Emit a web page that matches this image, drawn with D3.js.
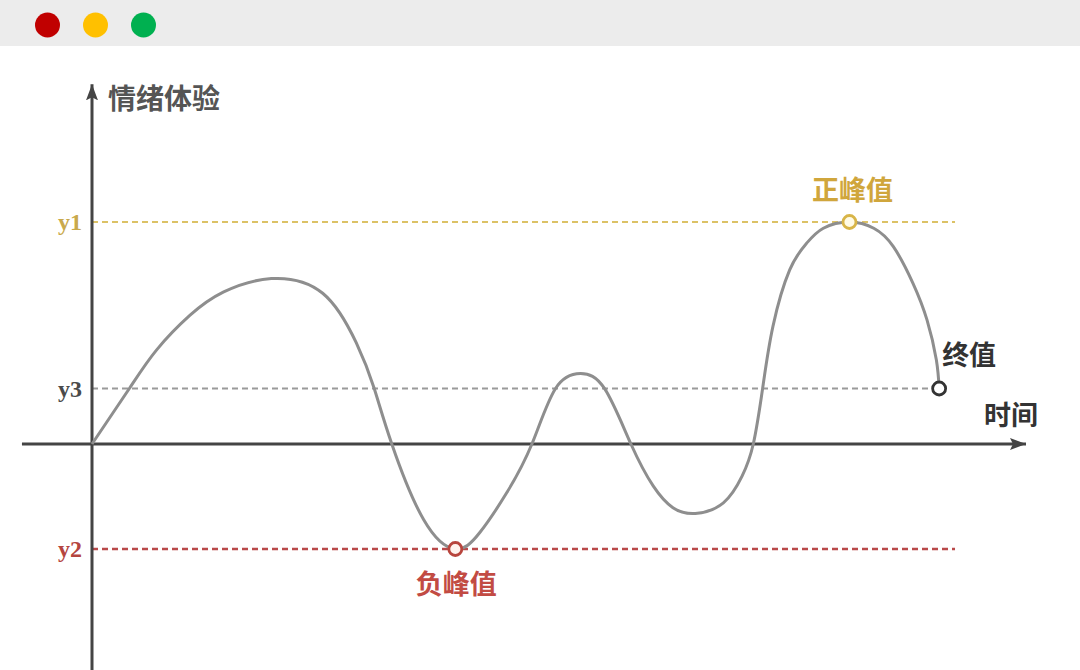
<!DOCTYPE html>
<meta charset="utf-8">
<script src="https://d3js.org/d3.v7.min.js"></script>
<style>
  body { margin: 0; background: #fff; }
  svg { display: block; }
</style>
<div id="chart"></div>
<script>
// time (0-100) and emotion value (y1 = 100)
var timeT   = [0, 4.0, 6.9, 10.5, 14.1, 19.2, 24.7, 28.3, 30.2, 32.1, 35.5, 38.9, 41.5, 44.4, 47.1, 49.6, 52.3, 54.9, 57.7, 60.1, 62.2, 64.6, 67.6, 69.6, 70.8, 71.8, 72.9, 74.7, 76.5, 78.3, 81.1, 83.7, 85.8, 87.9, 89.4, 90.4, 90.7];
var emotion = [0, 25, 42.3, 58, 68.5, 74.5, 67.9, 45.5, 25.2, 0, -34, -47.3, -40, -22, 0, 24.8, 31.7, 24.8, 0, -19, -28.7, -31.3, -26.5, -14.5, 0, 25, 52.9, 78.4, 90.4, 97.2, 100, 97.2, 88.9, 72.4, 55.9, 37.9, 25];

// reference lines
var refNames  = ["y1", "y3", "y2"];
var refValues = [100, 25, -47.3];
var refEnds   = [92.4, 90.7, 92.4];
var refColors = ["#dcc266", "#9a9a9a", "#b9494a"];
var refLabelColors = ["#c9a94c", "#4a4a4a", "#b5453f"];

// highlighted points: index into the series
var markIdx    = [30, 11, 36];
var markNames  = ["正峰值", "负峰值", "终值"];
var markStroke = ["#d8b548", "#b8453d", "#333333"];
var markFill   = ["#fffbe6", "#fff3ee", "#ffffff"];
var markText   = ["#d0a63c", "#c24b43", "#333333"];

var W = 1080, H = 670;
var svg = d3.select("#chart").append("svg")
  .attr("width", W).attr("height", H);

// window bar
svg.append("rect").attr("width", W).attr("height", 46).attr("fill", "#ececec");
var dots = ["#c00000", "#ffc000", "#00b050"];
svg.selectAll(".dot").data(dots).enter().append("circle")
  .attr("cx", function(d, i) { return 47.5 + i * 48; })
  .attr("cy", 25).attr("r", 12.5).attr("fill", function(d) { return d; });

var x = d3.scaleLinear().domain([0, 100]).range([92, 1026]);
var y = d3.scaleLinear().domain([-47.3, 100]).range([549, 222]);

var defs = svg.append("defs");
defs.append("marker")
  .attr("id", "arrow").attr("viewBox", "0 0 16 12")
  .attr("refX", 16).attr("refY", 6)
  .attr("markerWidth", 16).attr("markerHeight", 12)
  .attr("markerUnits", "userSpaceOnUse")
  .attr("orient", "auto")
  .append("path").attr("d", "M0,0 L16,6 L0,12 L3,6 Z").attr("fill", "#444");

// reference lines
refValues.forEach(function(v, i) {
  svg.append("line")
    .attr("x1", x(0)).attr("x2", x(refEnds[i]))
    .attr("y1", y(v)).attr("y2", y(v))
    .attr("stroke", refColors[i])
    .attr("stroke-width", i == 2 ? 2.5 : 2)
    .attr("stroke-dasharray", "6,4");
  svg.append("text")
    .attr("x", x(0) - 10).attr("y", y(v))
    .attr("dy", "0.35em")
    .attr("text-anchor", "end")
    .attr("font-family", "'Liberation Serif', 'DejaVu Serif', serif")
    .attr("font-weight", "bold")
    .attr("font-size", 24)
    .attr("fill", refLabelColors[i])
    .text(refNames[i]);
});

// axes
svg.append("line")
  .attr("x1", x(-7.5)).attr("x2", x(100))
  .attr("y1", y(0)).attr("y2", y(0))
  .attr("stroke", "#444").attr("stroke-width", 3)
  .attr("marker-end", "url(#arrow)");
svg.append("line")
  .attr("x1", x(0)).attr("x2", x(0))
  .attr("y1", H).attr("y2", y(162))
  .attr("stroke", "#444").attr("stroke-width", 3)
  .attr("marker-end", "url(#arrow)");

var cjk = "'Noto Sans CJK SC', 'Noto Sans', sans-serif";
svg.append("text")
  .attr("x", x(0) + 16).attr("y", y(162) + 15)
  .attr("dy", "0.35em")
  .attr("font-family", cjk).attr("font-weight", "bold")
  .attr("font-size", 28).attr("fill", "#555")
  .text("情绪体验");
svg.append("text")
  .attr("x", x(95.5)).attr("y", y(12.6))
  .attr("dy", "0.35em")
  .attr("font-family", cjk).attr("font-weight", "bold")
  .attr("font-size", 27).attr("fill", "#333")
  .text("时间");

// the curve
var data = timeT.map(function(t, i) { return {t: t, v: emotion[i]}; });
var line = d3.line()
  .x(function(d) { return x(d.t); })
  .y(function(d) { return y(d.v); })
  .curve(d3.curveNatural);
svg.append("path").datum(data)
  .attr("d", line)
  .attr("fill", "none")
  .attr("stroke", "#8e8e8e")
  .attr("stroke-width", 3);

// marked points
markIdx.forEach(function(k, i) {
  var d = data[k];
  svg.append("circle")
    .attr("cx", x(d.t)).attr("cy", y(d.v)).attr("r", 6.5)
    .attr("fill", markFill[i]).attr("stroke", markStroke[i])
    .attr("stroke-width", 2.8);
});
var labelPos = [
  {dx: 3, dy: -31, anchor: "middle"},
  {dx: 1, dy: 36, anchor: "middle"},
  {dx: 3, dy: -33, anchor: "start"}
];
markIdx.forEach(function(k, i) {
  var d = data[k];
  svg.append("text")
    .attr("x", x(d.t) + labelPos[i].dx).attr("y", y(d.v) + labelPos[i].dy)
    .attr("dy", "0.35em")
    .attr("text-anchor", labelPos[i].anchor)
    .attr("font-family", cjk).attr("font-weight", "bold")
    .attr("font-size", 27).attr("fill", markText[i])
    .text(markNames[i]);
});
</script>
